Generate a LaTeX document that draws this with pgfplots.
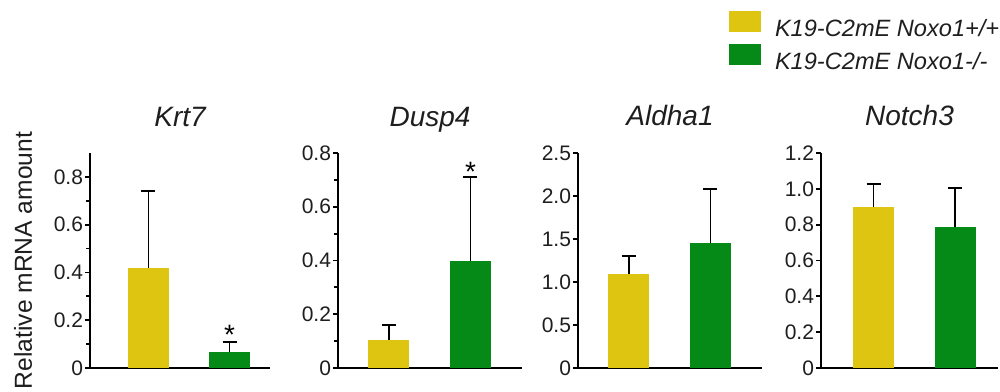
\documentclass[border=0pt]{standalone}
\usepackage{fontspec}
\setmainfont{Liberation Sans}
\usepackage{pgfplots}
\pgfplotsset{compat=1.18}
\definecolor{kyellow}{RGB}{222,197,18}
\definecolor{kgreen}{RGB}{5,138,24}
\definecolor{txt}{RGB}{30,30,30}
\pgfplotsset{
  panel/.style={
    scale only axis, anchor=south west, height=107.5pt,
    xmin=0, xmax=1, ymin=0,
    axis x line=bottom, axis y line=left,
    axis line style={-, line width=1.3pt, black},
    xtick=\empty, ytick pos=left, tick align=outside,
    major tick length=2.5pt, minor tick length=2pt,
    every tick/.style={black, line width=0.9pt},
    yticklabel style={font=\fontsize{10.5}{12}\selectfont, text=txt, inner sep=0.8pt},
    ybar, bar width=20.5pt, bar shift=0pt, clip=false,
    title style={font=\fontsize{14}{16}\selectfont\itshape, text=txt, at={(0.5,1)}, anchor=base, yshift=7.5pt},
    legend image code/.code={\fill[##1] (0pt,-1.25pt) rectangle (16pt,9.25pt);},
  },
  eb/.style={error bars/.cd, y dir=plus, y explicit,
    error bar style={line width=0.6pt, draw=black},
    error mark options={rotate=90, mark size=3.5pt, line width=0.9pt, draw=black}},
}
\begin{document}
\begin{tikzpicture}
\useasboundingbox (0,0) rectangle (500pt,195.5pt);
% Krt7
\begin{axis}[panel, at={(45pt,11.5pt)}, width=90pt, ymax=0.9,
  ytick={0,0.2,0.4,0.6,0.8}, yticklabels={0,0.2,0.4,0.6,0.8}, minor ytick={0.1,0.3,0.5,0.7},
  title={Krt7},
  ylabel={Relative mRNA amount},
  ylabel style={font=\fontsize{12.3}{14}\selectfont, text=txt, at={(axis description cs:-0.3722,0.5)}, anchor=center}]
\addplot[fill=kyellow, draw=none, eb] coordinates {(0.325,0.42) +- (0,0.322)};
\addplot[fill=kgreen, draw=none, eb] coordinates {(0.775,0.067) +- (0,0.041)};
\node[font=\fontsize{14}{14}\selectfont, inner sep=0pt] at (axis cs:0.775,0.14) {*};
\end{axis}
% Dusp4
\begin{axis}[panel, at={(169pt,11.5pt)}, width=92pt, ymax=0.8,
  ytick={0,0.2,0.4,0.6,0.8}, yticklabels={0,0.2,0.4,0.6,0.8}, minor ytick={0.1,0.3,0.5,0.7},
  title={Dusp4}]
\addplot[fill=kyellow, draw=none, eb] coordinates {(0.277,0.104) +- (0,0.056)};
\addplot[fill=kgreen, draw=none, eb] coordinates {(0.72,0.40) +- (0,0.311)};
\node[font=\fontsize{14}{14}\selectfont, inner sep=0pt] at (axis cs:0.72,0.728) {*};
\end{axis}
% Aldha1
\begin{axis}[panel, at={(289pt,11.5pt)}, width=92pt, ymax=2.5,
  ytick={0,0.5,1,1.5,2,2.5}, yticklabels={0,0.5,1.0,1.5,2.0,2.5},
  title={Aldha1}]
\addplot[fill=kyellow, draw=none, eb] coordinates {(0.277,1.093) +- (0,0.207)};
\addplot[fill=kgreen, draw=none, eb] coordinates {(0.72,1.453) +- (0,0.627)};
\end{axis}
% Notch3
\begin{axis}[panel, at={(410.5pt,11.5pt)}, width=88.5pt, ymax=1.2,
  ytick={0,0.2,0.4,0.6,0.8,1,1.2}, yticklabels={0,0.2,0.4,0.6,0.8,1.0,1.2},
  title={Notch3},
  legend style={at={(axis description cs:-0.5198,1.6605)}, anchor=north west,
    draw=none, fill=none, inner sep=0pt, outer sep=0pt,
    nodes={inner sep=0pt, font=\fontsize{11.8}{13}\selectfont\itshape, text=txt},
    column sep=7pt, row sep=2.3pt},
  legend cell align=left]
\addplot[fill=kyellow, draw=none, eb] coordinates {(0.297,0.899) +- (0,0.128)};
\addplot[fill=kgreen, draw=none, eb] coordinates {(0.757,0.787) +- (0,0.218)};
\legend{K19-C2mE Noxo1+/+, K19-C2mE Noxo1-/-}
\end{axis}
\end{tikzpicture}
\end{document}
